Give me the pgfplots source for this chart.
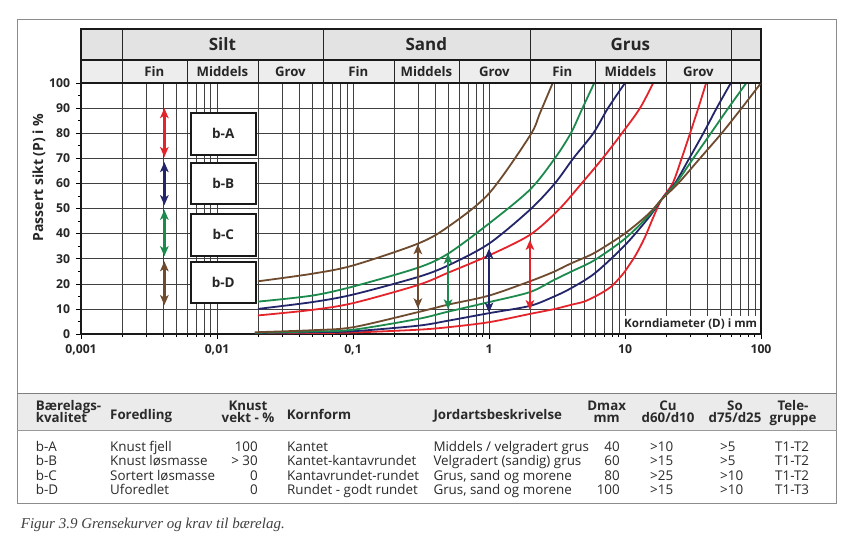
\documentclass[border=0pt]{standalone}
\usepackage{fontspec}
\setmainfont{Open Sans}
\newfontfamily\capfont{Liberation Serif}
\usepackage{pgfplots}
\pgfplotsset{compat=1.18}
\usetikzlibrary{arrows.meta}
\definecolor{cR}{HTML}{E3242B}
\definecolor{cN}{HTML}{23256A}
\definecolor{cG}{HTML}{1C8A4C}
\definecolor{cB}{HTML}{6E4A2E}
\definecolor{hdrA}{HTML}{E3E3E3}
\definecolor{hdrB}{HTML}{EDEDED}
\definecolor{tabhdr}{HTML}{EBEBEB}
\definecolor{txt}{HTML}{2A2A2A}
\tikzset{dbl/.style={{Stealth[length=10pt,width=8.5pt,inset=2.5pt]}-{Stealth[length=10pt,width=8.5pt,inset=2.5pt]}, line width=2.4pt}}
\begin{document}
\begin{tikzpicture}
\useasboundingbox (0pt,0pt) rectangle (842pt,550pt);
\fill[white] (0pt,0pt) rectangle (842pt,550pt);
\fill[tabhdr] (17pt,156.7pt) rectangle (836.7pt,120pt);
\draw[black!45, line width=0.8pt] (17pt,531pt) rectangle (836.7pt,47pt);
\draw[black!50, line width=1.4pt] (17pt,156.7pt) -- (836.7pt,156.7pt);
\draw[black!40, line width=0.7pt] (17pt,120pt) -- (836.7pt,120pt);
\begin{axis}[
  at={(81pt,216pt)}, anchor=south west,
  scale only axis, width=680pt, height=251pt,
  xmode=log, xmin=0.001, xmax=100, ymin=0, ymax=100,
  clip=false,
  axis line style={line width=2.2pt, black!90},
  xtick={0.001,0.01,0.1,1,10,100},
  xticklabels={{0,001},{0,01},{0,1},1,10,100},
  ytick={0,10,...,100},
  minor ytick={5,15,...,95},
  xmajorgrids, xminorgrids, ymajorgrids,
  major grid style={black!75, line width=0.55pt},
  minor grid style={black!75, line width=0.55pt},
  tick align=outside, tick pos=left,
  major tick length=5pt, minor tick length=3pt,
  every tick/.style={black, line width=0.6pt},
  tick label style={font=\bfseries\fontsize{12.2}{13}\selectfont, text=black!85},
  yticklabel style={xshift=-2.5pt},
  xticklabel style={yshift=-2.5pt},
  /pgf/number format/assume math mode=true,
]
% lower (coarse) limit curves
\addplot[cR, line width=1.8pt, smooth] coordinates {(0.019,0.3) (0.05,0.4) (0.1,0.6) (0.3,1.7) (0.5,2.7) (1,4.7) (2,8) (3,9.9) (4,11.6) (5,12.9) (6,14.9) (7,16.9) (8,19.1) (9,22) (10,25) (12,31.5) (14,38.5) (16,46) (18.5,53.5) (22.4,60) (26.1,70) (30.1,80) (34.6,90) (39.5,100)};
\addplot[cN, line width=1.8pt, smooth] coordinates {(0.019,0.4) (0.05,0.7) (0.1,1.1) (0.3,3.3) (0.5,5.3) (1,8.3) (2,11.2) (3,14.9) (4,18.2) (6,24.2) (10,35.4) (15,46.5) (18.5,53.5) (23.3,60) (29.7,70) (37.7,80) (47.2,90) (60,100)};
\addplot[cG, line width=1.8pt, smooth] coordinates {(0.019,0.5) (0.05,1) (0.1,1.7) (0.3,6) (0.5,8.9) (1,12.7) (2,16.7) (3,21.5) (4,24.8) (6,29.5) (10,38) (15,47.3) (18.5,53.5) (23.7,60) (31.8,70) (42.8,80) (57.5,90) (78,100)};
\addplot[cB, line width=1.8pt, smooth] coordinates {(0.019,0.7) (0.05,1.5) (0.1,2.7) (0.3,8.7) (0.5,11.7) (1,15.3) (2,21) (3,24.8) (4,28.1) (6,32.4) (10,40.1) (15,48) (18.5,53.5) (24.6,60) (35.6,70) (51.4,80) (72.1,90) (100,100)};
% upper (fine) limit curves
\addplot[cR, line width=1.8pt, smooth] coordinates {(0.02,7.4) (0.05,9.6) (0.1,12.3) (0.3,19.5) (0.5,24.4) (1,31.3) (2,39.5) (3.24,49.4) (4.8,60) (6.85,70) (9.5,80) (12.9,90) (16.1,100)};
\addplot[cN, line width=1.8pt, smooth] coordinates {(0.02,10) (0.05,12.7) (0.1,15.7) (0.3,22.7) (0.5,27.3) (1,36) (2,49.5) (3.05,60) (4.17,70) (5.85,80) (7.5,90) (10,100)};
\addplot[cG, line width=1.8pt, smooth] coordinates {(0.02,12.9) (0.05,15.3) (0.1,18.9) (0.3,26.4) (0.5,32) (1,44) (2,57.5) (3.05,70) (4,80) (4.87,90) (5.94,100)};
\addplot[cB, line width=1.8pt, smooth] coordinates {(0.02,21) (0.05,24) (0.1,27.3) (0.3,36) (0.5,42.7) (1,56) (2,79) (2.37,88) (2.94,100)};
% range arrows in the field
\addplot[cB, dbl] coordinates {(0.3,10.2) (0.3,35.8)};
\addplot[cG, dbl] coordinates {(0.5,9.8) (0.5,32)};
\addplot[cN, dbl] coordinates {(1,8.5) (1,34)};
\addplot[cR, dbl] coordinates {(2,9.5) (2,37.5)};
% legend arrows
\addplot[cR, dbl] coordinates {(0.0041,70.5) (0.0041,90)};
\addplot[cN, dbl] coordinates {(0.0041,51.3) (0.0041,68.5)};
\addplot[cG, dbl] coordinates {(0.0041,31) (0.0041,49.5)};
\addplot[cB, dbl] coordinates {(0.0041,11.5) (0.0041,29)};
% boxes
\draw[fill=white, draw=black!90, line width=2.2pt] (axis cs:0.00641,71.3) rectangle (axis cs:0.0193,88.2);
\draw[fill=white, draw=black!90, line width=2.2pt] (axis cs:0.00641,51.8) rectangle (axis cs:0.0193,68.2);
\draw[fill=white, draw=black!90, line width=2.2pt] (axis cs:0.00641,31.2) rectangle (axis cs:0.0193,47.8);
\draw[fill=white, draw=black!90, line width=2.2pt] (axis cs:0.00641,12.2) rectangle (axis cs:0.0193,28.8);
\node[font=\bfseries\fontsize{13.5}{14}\selectfont, text=black!85] at (axis cs:0.01112,79.75) {b-A};
\node[font=\bfseries\fontsize{13.5}{14}\selectfont, text=black!85] at (axis cs:0.01112,60) {b-B};
\node[font=\bfseries\fontsize{13.5}{14}\selectfont, text=black!85] at (axis cs:0.01112,39.5) {b-C};
\node[font=\bfseries\fontsize{13.5}{14}\selectfont, text=black!85] at (axis cs:0.01112,20.5) {b-D};
% axis title inside
\node[anchor=south east, fill=white, inner xsep=2.5pt, inner ysep=3pt, font=\bfseries\fontsize{11.6}{12}\selectfont, text=black!85] at ([xshift=-1.2pt,yshift=1.2pt]axis cs:100,0) {Korndiameter (D) i mm};
% header
\fill[hdrA] (axis cs:0.001,109.2) rectangle (axis cs:100,121.5);
\fill[hdrB] (axis cs:0.001,100) rectangle (axis cs:100,109.2);
\pgfplotsinvokeforeach{0.002,0.06,2,60}{\draw[black!85, line width=0.6pt] (axis cs:#1,109.2) -- (axis cs:#1,121.5);}
\pgfplotsinvokeforeach{0.002,0.006,0.02,0.06,0.2,0.6,2,6,20,60}{\draw[black!85, line width=0.6pt] (axis cs:#1,100) -- (axis cs:#1,109.2);}
\draw[black!90, line width=1.8pt] (axis cs:0.001,109.2) -- (axis cs:100,109.2);
\draw[black!90, line width=2.2pt] (axis cs:0.001,100) -- (axis cs:100,100);
\draw[black!90, line width=2.2pt, line join=miter] (axis cs:0.001,100) -- (axis cs:0.001,121.5) -- (axis cs:100,121.5) -- (axis cs:100,100);
\node[font=\bfseries\fontsize{17}{18}\selectfont, text=black!85] at (axis cs:0.01095,115.3) {Silt};
\node[font=\bfseries\fontsize{17}{18}\selectfont, text=black!85] at (axis cs:0.3464,115.3) {Sand};
\node[font=\bfseries\fontsize{17}{18}\selectfont, text=black!85] at (axis cs:10.95,115.3) {Grus};
\node[font=\bfseries\fontsize{13.2}{14}\selectfont, text=black!85] at (axis cs:0.003464,104.6) {Fin};
\node[font=\bfseries\fontsize{13.2}{14}\selectfont, text=black!85] at (axis cs:0.01095,104.6) {Middels};
\node[font=\bfseries\fontsize{13.2}{14}\selectfont, text=black!85] at (axis cs:0.03464,104.6) {Grov};
\node[font=\bfseries\fontsize{13.2}{14}\selectfont, text=black!85] at (axis cs:0.1095,104.6) {Fin};
\node[font=\bfseries\fontsize{13.2}{14}\selectfont, text=black!85] at (axis cs:0.3464,104.6) {Middels};
\node[font=\bfseries\fontsize{13.2}{14}\selectfont, text=black!85] at (axis cs:1.095,104.6) {Grov};
\node[font=\bfseries\fontsize{13.2}{14}\selectfont, text=black!85] at (axis cs:3.464,104.6) {Fin};
\node[font=\bfseries\fontsize{13.2}{14}\selectfont, text=black!85] at (axis cs:10.95,104.6) {Middels};
\node[font=\bfseries\fontsize{13.2}{14}\selectfont, text=black!85] at (axis cs:34.64,104.6) {Grov};
\end{axis}
\node[rotate=90, font=\bfseries\fontsize{14}{14}\selectfont, text=black!85] at (39pt,372.5pt) {Passert sikt (P) i \%};
\begin{scope}[x=1pt,y=1pt, every node/.style={text=txt, inner sep=0pt}]
\tikzset{h/.style={font=\bfseries\fontsize{13.3}{13.3}\selectfont, anchor=base}, r/.style={font=\fontsize{13.4}{14}\selectfont, anchor=base west}}
% table header
\node[h, anchor=base west] at (35.7,139.3) {Bærelags-};
\node[h, anchor=base west] at (35.7,127.2) {kvalitet};
\node[h, anchor=base west] at (110,131) {Foredling};
\node[h] at (248,139.3) {Knust};
\node[h] at (248,127.2) {vekt - \%};
\node[h, anchor=base west] at (286.7,131) {Kornform};
\node[h, anchor=base west] at (433.3,131) {Jordartsbeskrivelse};
\node[h] at (606.7,139.3) {Dmax};
\node[h] at (606.7,127.2) {mm};
\node[h] at (668,139.3) {Cu};
\node[h] at (668,127.2) {d60/d10};
\node[h] at (735,139.3) {So};
\node[h] at (735,127.2) {d75/d25};
\node[h] at (793,139.3) {Tele-};
\node[h] at (793,127.2) {gruppe};
% rows
\foreach \yy/\a/\b/\c/\d/\e/\f/\g/\hh/\i in {
 98.3/b-A/Knust fjell/100/Kantet/Middels \slash{} velgradert grus/40/>10/>5/T1-T2,
 84.1/b-B/Knust løsmasse/> 30/Kantet-kantavrundet/Velgradert (sandig) grus/60/>15/>5/T1-T2,
 69.9/b-C/Sortert løsmasse/0/Kantavrundet-rundet/{Grus, sand og morene}/80/>25/>10/T1-T2,
 55.7/b-D/Uforedlet/0/Rundet - godt rundet/{Grus, sand og morene}/100/>15/>10/T1-T3}{
 \node[r] at (35.7,\yy) {\a};
 \node[r] at (110,\yy) {\b};
 \node[r, anchor=base east] at (258,\yy) {\c};
 \node[r] at (287,\yy) {\d};
 \node[r] at (433.3,\yy) {\e};
 \node[r, anchor=base east] at (620,\yy) {\f};
 \node[r] at (650,\yy) {\g};
 \node[r] at (720,\yy) {\hh};
 \node[r] at (775,\yy) {\i};
}
\node[anchor=base west, font=\capfont\itshape\fontsize{15}{15}\selectfont, text=black!75] at (20.7,22) {Figur 3.9 Grensekurver og krav til bærelag.};
\end{scope}
\end{tikzpicture}
\end{document}
